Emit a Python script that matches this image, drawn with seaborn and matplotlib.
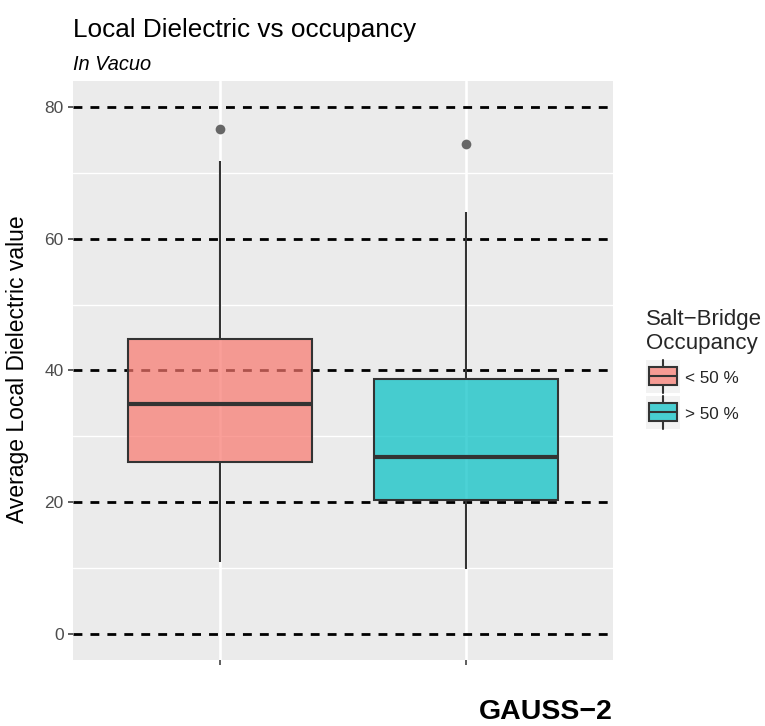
import matplotlib
matplotlib.use("Agg")
import matplotlib.pyplot as plt
from matplotlib.colors import to_rgba
from matplotlib.patches import Rectangle, Patch
from matplotlib.lines import Line2D
from matplotlib.legend_handler import HandlerBase
import numpy as np
import pandas as pd
import seaborn as sns

# Five-number summaries per occupancy class (plus the single outlier each)
groups = ["< 50 %", "> 50 %"]
whisker_low = [10.9, 9.9]
q1 = [26.1, 20.3]
median = [34.9, 26.9]
q3 = [44.8, 38.7]
whisker_high = [71.8, 64.1]
outlier = [76.7, 74.4]

ref_levels = [0, 20, 40, 60, 80]
fill_colors = ["#F8766D", "#00BFC4"]

# Sample sets whose quartiles / whiskers reproduce the summaries above
rows = []
for i, g in enumerate(groups):
    vals = [whisker_low[i], q1[i], q1[i], median[i], median[i],
            q3[i], q3[i], whisker_high[i], outlier[i]]
    rows += [(g, v) for v in vals]
df = pd.DataFrame(rows, columns=["occupancy", "dielectric"])

sns.set_theme(style="darkgrid")
plt.rcParams["font.family"] = ["Liberation Sans", "DejaVu Sans"]

fig = plt.figure(figsize=(7.65, 7.26), dpi=100)
ax = fig.add_axes([73 / 765, 1 - 660 / 726, (613 - 73) / 765, (660 - 81) / 726])
ax.set_facecolor("#EBEBEB")

line_col = "#333333"
sns.boxplot(
    data=df, x="occupancy", y="dielectric", hue="occupancy",
    order=groups, hue_order=groups, palette=fill_colors, saturation=1,
    width=0.75, linecolor=line_col, linewidth=1.5, showcaps=False,
    whis=1.5, legend=False, ax=ax,
    medianprops=dict(linewidth=3.0, color=line_col),
    flierprops=dict(marker="o", markersize=7, markerfacecolor="#666666",
                    markeredgecolor="none"),
    zorder=3,
)
for p in ax.patches:
    fc = p.get_facecolor()
    p.set_facecolor((fc[0], fc[1], fc[2], 0.7))
    p.set_zorder(3)

# Reference levels as dashed lines
for lv in ref_levels:
    ax.axhline(lv, color="black", linewidth=2.0, linestyle=(0, (3.2, 2.9)), zorder=2)

ax.set_xlim(-0.6, 1.6)
ax.set_ylim(-4, 84)
ax.set_yticks(ref_levels)
ax.set_yticks([10, 30, 50, 70], minor=True)
ax.set_xticks([0, 1])
ax.set_xticklabels(["", ""])

ax.grid(False)
ax.set_axisbelow(True)
for x in [0, 1]:
    ax.axvline(x, color="white", linewidth=1.9, zorder=0.5)
for y in [10, 30, 50, 70]:
    ax.axhline(y, color="white", linewidth=1.0, zorder=0.5)

for s in ax.spines.values():
    s.set_visible(False)
ax.tick_params(axis="both", which="major", length=3.6, width=1.1, color=line_col,
               labelsize=12.5, labelcolor="#4D4D4D", pad=3, left=True, bottom=True)
ax.tick_params(axis="both", which="minor", length=0)
ax.set_xlabel("")
ax.set_ylabel("")

fig.text(18 / 765, 1 - 369 / 726, "Average Local Dielectric value", rotation=90,
         ha="center", va="center", fontsize=16.5, color="black")
fig.text(73 / 765, 1 - 37 / 726, "Local Dielectric vs occupancy", ha="left",
         va="baseline", fontsize=18.8, color="black")
fig.text(73 / 765, 1 - 70 / 726, "In Vacuo", ha="left", va="baseline",
         fontsize=14.4, style="italic", color="black")
fig.text(613 / 765, 1 - 719 / 726, "GAUSS\u22122", ha="right", va="baseline",
         fontsize=20.5, fontweight="bold", color="black")

KEY_W = 24.5   # legend key size in points
KEY_H = 24.0


class BoxKey(HandlerBase):
    """Legend key drawn as a miniature boxplot on a light grey tile."""

    def legend_artist(self, legend, orig_handle, fontsize, handlebox):
        handlebox.width = KEY_W
        handlebox.height = KEY_H
        handlebox.xdescent = 0
        handlebox.ydescent = KEY_H / 2 - 0.36 * fontsize
        x0, y0 = 0, -handlebox.ydescent
        w, h = KEY_W, KEY_H
        trans = handlebox.get_transform()
        fc = orig_handle.get_facecolor()
        bw = w * 0.8
        bx = x0 + (w - bw) / 2
        cx = x0 + w / 2
        arts = [
            Rectangle((x0, y0), w, h, facecolor="#F2F2F2", edgecolor="none",
                      transform=trans),
            Rectangle((bx, y0 + h * 0.23), bw, h * 0.54, facecolor=fc,
                      edgecolor=line_col, linewidth=1.5, transform=trans),
            Line2D([bx, bx + bw], [y0 + h / 2] * 2, color=line_col,
                   linewidth=1.5, transform=trans),
            Line2D([cx, cx], [y0, y0 + h * 0.23], color=line_col,
                   linewidth=1.5, transform=trans),
            Line2D([cx, cx], [y0 + h * 0.77, y0 + h], color=line_col,
                   linewidth=1.5, transform=trans),
        ]
        for a in arts:
            handlebox.add_artist(a)
        return arts[1]


handles = [Patch(facecolor=to_rgba(c, 0.7)) for c in fill_colors]
leg = fig.legend(
    handles, groups, title="Salt\u2212Bridge\nOccupancy",
    loc="upper left", bbox_to_anchor=(646 / 765, 1 - 309 / 726),
    frameon=False, fontsize=12.3, title_fontsize=16,
    handler_map={Patch: BoxKey()},
    labelspacing=0.16, handletextpad=0.3, borderpad=0, borderaxespad=0,
    alignment="left",
)
# extra room between the legend title and its keys
leg._legend_box.sep = 4

fig.savefig("out.png", dpi=100)
